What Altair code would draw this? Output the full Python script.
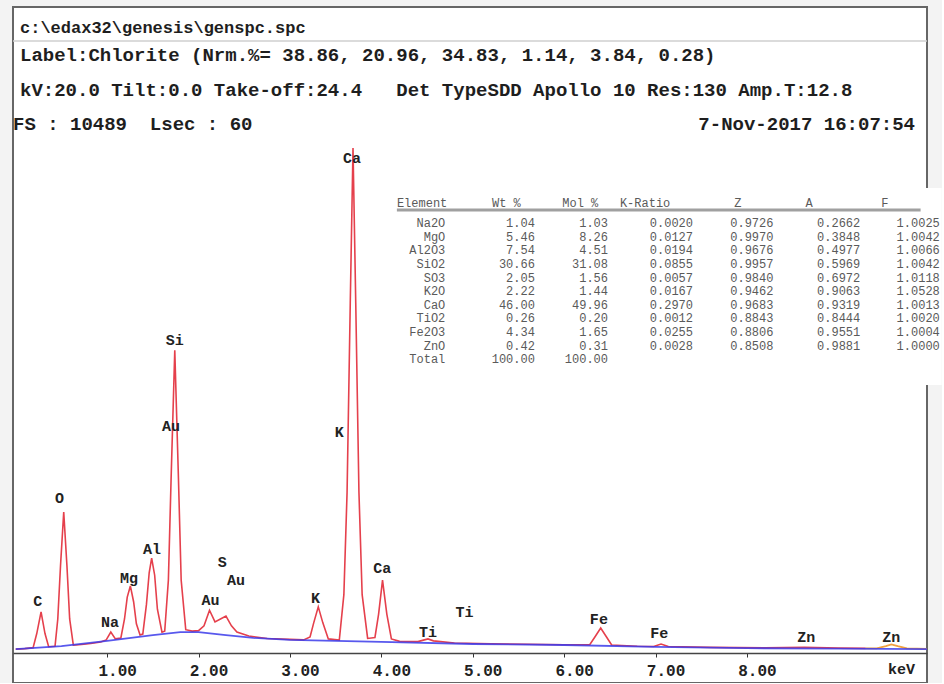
import altair as alt
import pandas as pd

# ---------------- data ----------------
# measured spectrum (red), keV vs counts
SPEC_KEV = [0.00, 0.10, 0.19, 0.23, 0.277, 0.32, 0.36, 0.43, 0.46, 0.49, 0.525, 0.56, 0.59, 0.63,
            0.72, 0.82, 0.93, 0.99, 1.04, 1.09, 1.15, 1.19, 1.22, 1.254, 1.29, 1.32, 1.36,
            1.39, 1.43, 1.46, 1.487, 1.52, 1.55, 1.60, 1.63, 1.67, 1.70, 1.74, 1.78, 1.81, 1.86,
            1.93, 2.00, 2.06, 2.12, 2.18, 2.24, 2.30, 2.36, 2.42, 2.55, 2.75, 3.00, 3.15,
            3.22, 3.26, 3.31, 3.36, 3.42, 3.54, 3.59, 3.625, 3.66, 3.69, 3.72, 3.755, 3.79, 3.85,
            3.93, 3.97, 4.013, 4.06, 4.11, 4.20, 4.40, 4.46, 4.51, 4.57, 4.80, 5.20, 5.60, 6.00,
            6.28, 6.34, 6.40, 6.46, 6.52, 6.80, 6.98, 7.06, 7.14, 7.60, 8.20, 8.63, 9.00, 9.30]
SPEC_COUNTS = [80, 90, 110, 400, 845, 400, 130, 140, 700, 1800, 2900, 1800, 700, 160,
               175, 195, 225, 270, 430, 290, 310, 700, 1150, 1380, 1050, 600, 370,
               390, 1000, 1650, 1950, 1600, 900, 430, 450, 1500, 3600, 6230, 3600, 1500, 480,
               450, 460, 560, 880, 640, 700, 760, 560, 430, 350, 300, 280, 270,
               330, 620, 950, 620, 290, 265, 1200, 3300, 7200, 10390, 7200, 3300, 1200, 300,
               320, 800, 1500, 800, 290, 240, 235, 265, 290, 250, 205, 190, 180, 170,
               170, 340, 515, 340, 165, 140, 135, 185, 135, 115, 105, 115, 100, 95]
# high-energy end of the spectrum (orange)
ZN_KEV = [9.30, 9.42, 9.52, 9.58, 9.65, 9.75, 9.97]
ZN_COUNTS = [95, 95, 140, 175, 140, 95, 85]
# fitted background (blue)
BG_KEV = [0.0, 0.5, 1.0, 1.5, 1.8, 2.0, 2.3, 2.6, 3.0, 4.0, 5.0, 6.0, 7.0, 8.0, 9.0, 9.97]
BG_COUNTS = [80, 140, 250, 370, 430, 430, 370, 310, 270, 230, 185, 165, 125, 100, 90, 80]

# element labels on the spectrum
PEAK_LABELS = ["C", "O", "Na", "Mg", "Al", "Si", "Au", "S", "Au", "Au", "K", "K", "Ca", "Ca",
               "Ti", "Ti", "Fe", "Fe", "Zn", "Zn"]
PEAK_LABEL_KEV = [0.24, 0.48, 1.03, 1.24, 1.49, 1.74, 1.70, 2.26, 2.41, 2.13, 3.54, 3.28, 3.68, 4.01,
                  4.91, 4.51, 6.38, 7.04, 8.65, 9.58]
PEAK_LABEL_COUNTS = [1070, 3190, 640, 1540, 2140, 6440, 4670, 1870, 1500, 1090, 4550, 1130, 10180, 1750,
                     840, 430, 700, 410, 330, 330]

TICK_VALUES = [1, 2, 3, 4, 5, 6, 7, 8]
AXIS_UNIT = "keV"

# quantification table
TABLE_HEADERS = ["Element", "Wt %", "Mol %", "K-Ratio", "Z", "A", "F"]
TABLE_ELEMENTS = ["Na2O", "MgO", "Al2O3", "SiO2", "SO3", "K2O", "CaO", "TiO2", "Fe2O3", "ZnO", "Total"]
TABLE_WT = ["1.04", "5.46", "7.54", "30.66", "2.05", "2.22", "46.00", "0.26", "4.34", "0.42", "100.00"]
TABLE_MOL = ["1.03", "8.26", "4.51", "31.08", "1.56", "1.44", "49.96", "0.20", "1.65", "0.31", "100.00"]
TABLE_KRATIO = ["0.0020", "0.0127", "0.0194", "0.0855", "0.0057", "0.0167", "0.2970", "0.0012", "0.0255", "0.0028", ""]
TABLE_Z = ["0.9726", "0.9970", "0.9676", "0.9957", "0.9840", "0.9462", "0.9683", "0.8843", "0.8806", "0.8508", ""]
TABLE_A = ["0.2662", "0.3848", "0.4977", "0.5969", "0.6972", "0.9063", "0.9319", "0.8444", "0.9551", "0.9881", ""]
TABLE_F = ["1.0025", "1.0042", "1.0066", "1.0042", "1.0118", "1.0528", "1.0013", "1.0020", "1.0004", "1.0000", ""]

NB = "\u00a0"
HEADER_PATH = "c:\\edax32\\genesis\\genspc.spc"
HEADER_LABEL = "Label:Chlorite (Nrm.%= 38.86, 20.96, 34.83, 1.14, 3.84, 0.28)"
HEADER_SETUP = "kV:20.0 Tilt:0.0 Take-off:24.4" + NB * 3 + "Det TypeSDD Apollo 10 Res:130 Amp.T:12.8"
HEADER_FS = "FS : 10489" + NB * 2 + "Lsec : 60"
HEADER_DATE = "7-Nov-2017 16:07:54"

# ---------------- layout (not data) ----------------
W, H = 914, 676
X_DOMAIN = [-0.03, 9.97]
Y_DOMAIN = [-617, 13290]
MONO = "Liberation Mono"
TABLE_HEAD_X = [4.17, 5.21, 5.98, 6.61, 7.86, 8.64, 9.47]     # left edges (keV units)
TABLE_COL_X = [4.70, 5.68, 6.48, 7.41, 8.29, 9.24, 10.11]     # right edges (keV units)
TABLE_HEAD_Y = 9257
TABLE_ROW0_Y = 8845
TABLE_ROW_STEP = 280
TABLE_RULE = dict(x0=4.17, x1=9.90, y=9113)
TABLE_BOX = dict(x0=4.07, x1=10.13, y0=5513, y1=9565)

xs = alt.Scale(domain=X_DOMAIN, nice=False, zero=False)
ys = alt.Scale(domain=Y_DOMAIN, nice=False, zero=False)

spec_df = pd.DataFrame({"kev": SPEC_KEV, "counts": SPEC_COUNTS})
zn_df = pd.DataFrame({"kev": ZN_KEV, "counts": ZN_COUNTS})
bg_df = pd.DataFrame({"kev": BG_KEV, "counts": BG_COUNTS})
lab_df = pd.DataFrame({"kev": PEAK_LABEL_KEV, "counts": PEAK_LABEL_COUNTS, "t": PEAK_LABELS})

X = alt.X("kev:Q", scale=xs,
          axis=alt.Axis(values=TICK_VALUES, format=".2f", offset=-30, grid=False, title=None,
                        labelOffset=10,
                        domainColor="#444", domainWidth=1.5, tickColor="#333", tickSize=4,
                        labelFont=MONO, labelFontSize=16, labelFontWeight="bold", labelColor="#222",
                        labelPadding=5))
Y = alt.Y("counts:Q", scale=ys, axis=None)
XP = alt.X("kev:Q", scale=xs)
YP = alt.Y("counts:Q", scale=ys)

spec = alt.Chart(spec_df).mark_line(color="#e5404c", strokeWidth=1.6).encode(x=X, y=Y, order="kev:Q")
zn = alt.Chart(zn_df).mark_line(color="#f0a040", strokeWidth=1.8).encode(x=XP, y=YP, order="kev:Q")
bg = alt.Chart(bg_df).mark_line(color="#3b3bea", strokeWidth=1.8, opacity=0.85).encode(x=XP, y=YP, order="kev:Q")

labels = alt.Chart(lab_df).mark_text(font=MONO, fontSize=15, fontWeight="bold", color="#222",
                                     baseline="middle", align="center").encode(x=XP, y=YP, text="t:N")

unit_df = pd.DataFrame({"kev": [9.69], "counts": [-330], "t": [AXIS_UNIT]})
unit = alt.Chart(unit_df).mark_text(font=MONO, fontSize=15, fontWeight="bold", color="#222",
                                    baseline="middle", align="center").encode(x=XP, y=YP, text="t:N")

# table
box_df = pd.DataFrame({"kev": [TABLE_BOX["x0"]], "kev2": [TABLE_BOX["x1"]],
                       "counts": [TABLE_BOX["y0"]], "counts2": [TABLE_BOX["y1"]]})
tbox = alt.Chart(box_df).mark_rect(color="white", clip=False).encode(
    x=XP, x2="kev2:Q", y=YP, y2="counts2:Q")
head_df = pd.DataFrame({"kev": TABLE_HEAD_X, "counts": [TABLE_HEAD_Y] * len(TABLE_HEADERS), "t": TABLE_HEADERS})
cols = [TABLE_ELEMENTS, TABLE_WT, TABLE_MOL, TABLE_KRATIO, TABLE_Z, TABLE_A, TABLE_F]
rows = []
for ci, col in enumerate(cols):
    for ri, val in enumerate(col):
        if val:
            rows.append({"kev": TABLE_COL_X[ci], "counts": TABLE_ROW0_Y - ri * TABLE_ROW_STEP, "t": val})
body_df = pd.DataFrame(rows)

thead = alt.Chart(head_df).mark_text(font=MONO, fontSize=12, color="#5a5a5a", align="left",
                                     baseline="middle").encode(x=XP, y=YP, text="t:N")
tbody = alt.Chart(body_df).mark_text(font=MONO, fontSize=12, color="#5a5a5a", align="right",
                                     baseline="middle").encode(x=XP, y=YP, text="t:N")
rule_df = pd.DataFrame({"kev": [TABLE_RULE["x0"]], "kev2": [TABLE_RULE["x1"]], "counts": [TABLE_RULE["y"]]})
trule = alt.Chart(rule_df).mark_rule(color="#a0a0a0", strokeWidth=3).encode(x=XP, x2="kev2:Q", y=YP)

# header texts (annotation, pixel placed)
one = pd.DataFrame({"a": [0]})
def htext(txt, x, y, align="left", size=18):
    return alt.Chart(one).mark_text(text=txt, font=MONO, fontSize=size, fontWeight="bold",
                                    color="#1e1e1e", align=align, baseline="middle").encode(
        x=alt.value(x), y=alt.value(y))

h1 = htext(HEADER_PATH, 7, 21, size=17)
h2 = htext(HEADER_LABEL, 7, 48, size=19)
h3 = htext(HEADER_SETUP, 7, 83, size=19)
h4 = htext(HEADER_FS, 0, 117, size=19)
h5 = htext(HEADER_DATE, 902, 117, align="right", size=19)
sep = alt.Chart(one).mark_rule(color="#cfcfcf", strokeWidth=1.5).encode(
    x=alt.value(0), x2=alt.value(W), y=alt.value(34))

chart = alt.layer(spec, zn, bg, labels, unit, tbox, thead, tbody, trule, h1, h2, h3, h4, h5, sep).properties(
    width=W, height=H,
    padding={"left": 12, "top": 7, "right": 0, "bottom": 0},
    background="#f3f3f3",
).configure_view(stroke="#666", strokeWidth=2, fill="white")

chart.save("out.html", embed_options={"renderer": "svg", "actions": False})
